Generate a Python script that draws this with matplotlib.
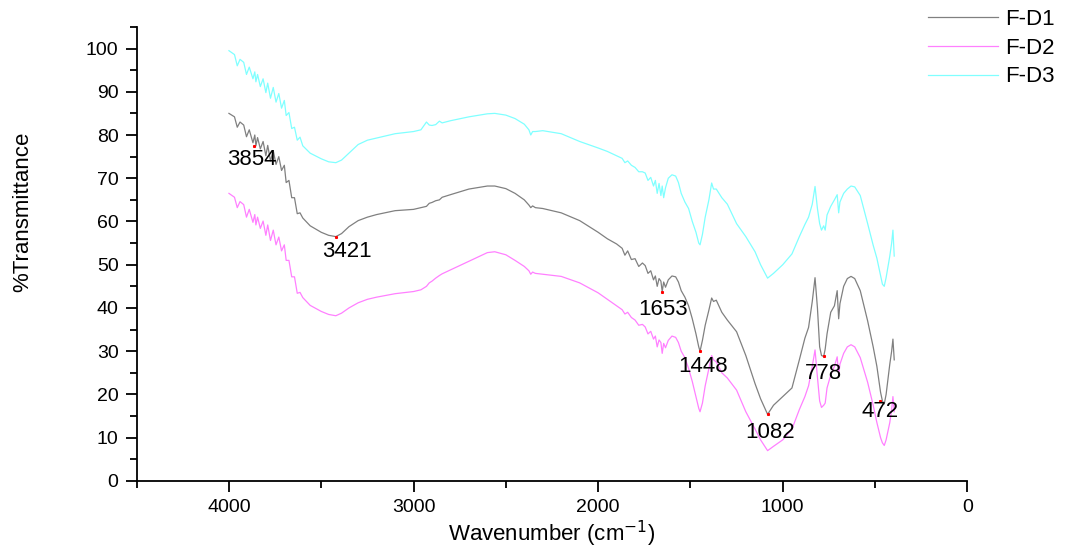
#!/usr/bin/env python3
# -*- coding: utf-8 -*-

"""
FTIR spectra of F-D1, F-D2 and F-D3 (% transmittance vs wavenumber).
"""

import matplotlib
matplotlib.use("Agg")
import matplotlib.pyplot as plt
from matplotlib.ticker import MultipleLocator

# Wavenumber grid (cm-1), shared by the three spectra
wavenumber = [
    4000, 3970, 3955, 3940, 3920, 3905, 3890, 3870, 3860, 3854,
    3845, 3830, 3815, 3800, 3790, 3775, 3760, 3745, 3730, 3715,
    3700, 3690, 3675, 3660, 3645, 3630, 3615, 3600, 3560, 3500,
    3460, 3421, 3390, 3350, 3300, 3250, 3200, 3100, 3000, 2960,
    2930, 2915, 2900, 2880, 2860, 2845, 2800, 2700, 2600, 2560,
    2500, 2450, 2400, 2375, 2365, 2355, 2340, 2300, 2200, 2100,
    2000, 1950, 1900, 1870, 1855, 1840, 1820, 1800, 1780, 1760,
    1745, 1730, 1715, 1700, 1690, 1680, 1670, 1660, 1653, 1645,
    1635, 1620, 1600, 1580, 1565, 1550, 1530, 1510, 1490, 1470,
    1455, 1448, 1435, 1420, 1400, 1385, 1375, 1360, 1330, 1300,
    1250, 1200, 1150, 1120, 1082, 1050, 1000, 950, 910, 880,
    860, 840, 825, 812, 800, 790, 778, 770, 760, 740,
    720, 705, 697, 690, 670, 650, 630, 610, 580, 540,
    510, 490, 470, 460, 450, 440, 420, 410, 403, 396,
]

fd1 = [
    85.0, 84.2, 81.8, 83.0, 82.3, 79.6, 81.2, 78.2, 80.0, 77.5,
    79.4, 76.8, 78.5, 75.2, 77.6, 74.0, 76.4, 73.2, 75.0, 71.8,
    73.0, 69.0, 69.5, 65.5, 65.5, 61.8, 62.0, 60.8, 59.0, 57.5,
    56.8, 56.5, 57.2, 58.8, 60.2, 61.0, 61.6, 62.5, 62.8, 63.2,
    63.5, 64.2, 64.4, 64.8, 65.0, 65.6, 66.2, 67.5, 68.2, 68.2,
    67.6, 66.5, 65.0, 63.8, 63.2, 63.6, 63.2, 63.0, 62.0, 60.2,
    57.5, 56.0, 54.8, 53.8, 52.2, 53.2, 51.2, 51.4, 49.6, 50.4,
    49.8, 48.0, 48.6, 46.5, 47.4, 45.0, 46.8, 46.2, 43.8, 46.0,
    44.8, 46.5, 47.4, 47.2, 46.0, 44.0, 42.5, 40.5, 37.5, 34.0,
    31.0, 30.0, 32.5, 36.0, 39.5, 42.3, 41.5, 41.8, 39.0, 37.2,
    34.5, 29.0, 22.5, 19.0, 15.4, 17.5, 19.5, 21.5, 28.0, 33.0,
    35.5, 41.5, 47.0, 40.0, 31.0, 29.0, 28.8, 30.5, 34.0, 39.0,
    40.5, 44.0, 37.5, 41.0, 45.0, 46.8, 47.3, 46.8, 44.0, 37.0,
    31.0, 26.5, 20.5, 18.5, 17.8, 20.0, 27.0, 30.0, 32.8, 28.0,
]

fd2 = [
    66.5, 65.6, 63.2, 64.6, 63.9, 61.0, 62.8, 59.8, 61.6, 59.2,
    61.0, 58.4, 60.1, 56.8, 59.2, 55.6, 58.0, 54.6, 56.4, 53.2,
    54.6, 51.0, 51.0, 47.2, 47.2, 43.4, 43.6, 42.4, 40.6, 39.2,
    38.5, 38.2, 38.8, 40.0, 41.2, 42.0, 42.5, 43.3, 43.8, 44.2,
    45.0, 45.8, 46.2, 46.9, 47.5, 47.9, 48.8, 50.8, 52.8, 53.0,
    52.3, 51.0, 49.6, 48.6, 47.8, 48.3, 48.0, 47.8, 47.3, 45.8,
    43.5, 42.0, 40.5, 39.6, 38.6, 39.0, 37.8, 37.2, 36.0, 36.2,
    35.6, 34.0, 34.6, 32.8, 33.5, 31.0, 32.6, 32.0, 29.5, 31.8,
    30.8, 32.5, 33.5, 33.2, 32.0, 30.0, 28.5, 26.0, 23.0, 19.5,
    16.8, 16.0, 18.0, 22.0, 26.0, 29.0, 28.0, 27.5, 25.0, 23.8,
    21.0, 16.0, 12.0, 9.5, 7.0, 8.0, 9.5, 12.0, 16.5, 19.5,
    22.0, 26.5, 30.3, 24.0, 18.5, 17.0, 17.5, 18.0, 21.5, 24.5,
    26.5, 28.7, 24.5, 27.0, 29.5, 31.0, 31.5, 31.0, 28.5, 22.8,
    17.5, 13.5, 10.0, 8.8, 8.2, 9.5, 13.5, 16.5, 19.5, 16.0,
]

fd3 = [
    99.5, 98.6, 96.0, 97.5, 96.8, 94.0, 95.7, 93.0, 94.6, 92.3,
    94.0, 91.2, 93.0, 89.8, 92.0, 88.5, 91.0, 87.6, 89.6, 86.2,
    88.0, 84.5, 85.2, 81.5, 81.8, 78.8, 79.5, 77.5, 75.8, 74.5,
    73.8, 73.6, 74.2, 75.8, 77.8, 78.8, 79.3, 80.3, 80.8, 81.2,
    83.0, 82.3, 82.2, 82.4, 83.2, 82.8, 83.3, 84.2, 84.9, 85.0,
    84.6, 83.8, 82.5, 81.2, 80.0, 80.8, 80.8, 81.0, 80.3, 78.5,
    77.0, 76.2, 75.2, 74.6, 73.6, 74.0, 73.0, 72.5, 71.5, 71.5,
    71.2, 69.5, 70.2, 68.2, 69.5, 66.5, 68.8, 66.0, 68.2, 65.5,
    67.8, 70.0, 70.8, 70.5, 69.0, 66.5, 64.5, 63.0, 60.0, 57.5,
    55.0, 54.6, 57.0, 61.0, 65.0, 68.9, 67.5, 67.5, 65.5, 64.0,
    59.5, 56.5, 53.0, 50.0, 46.9, 48.0, 50.0, 52.5, 56.5, 59.3,
    61.0, 64.0, 68.1, 63.0, 59.5, 58.0, 59.0, 58.0, 61.5, 63.5,
    65.0, 66.2, 62.0, 64.5, 66.5, 67.5, 68.2, 68.0, 66.0, 59.5,
    54.5, 51.5, 47.5, 45.5, 45.0, 47.0, 52.0, 55.0, 58.0, 52.0,
]

# Peak labels (marked on F-D1)
peak_labels = ["3854", "3421", "1653", "1448", "1082", "778", "472"]
peak_pos = [3864, 3421, 1653, 1448, 1082, 778, 472]
peak_val = [77.5, 56.5, 43.8, 30.0, 15.4, 28.8, 18.5]
label_x = [3875, 3360, 1650, 1433, 1069, 782, 472]
label_y = [74.3, 53.0, 39.6, 26.4, 11.3, 24.8, 16.0]


def main():
    plt.rcParams["font.family"] = ["Liberation Sans", "DejaVu Sans"]

    fig = plt.figure(figsize=(10.76, 5.49), dpi=100)
    ax = fig.add_axes([0.127, 0.124, 0.772, 0.827])

    lw = 0.9
    ax.plot(wavenumber, fd1, color="#808080", lw=lw, label="F-D1")
    ax.plot(wavenumber, fd2, color="#FF80FF", lw=lw, label="F-D2")
    ax.plot(wavenumber, fd3, color="#80FFFF", lw=lw, label="F-D3")

    ax.plot(peak_pos, peak_val, ls="none", marker="s", ms=1.2, color="red")
    for txt, x, y in zip(peak_labels, label_x, label_y):
        ax.text(x, y, txt, ha="center", va="center", fontsize=16)

    ax.set_xlim(4500, 0)
    ax.set_ylim(0, 105)
    ax.xaxis.set_major_locator(MultipleLocator(1000))
    ax.xaxis.set_minor_locator(MultipleLocator(500))
    ax.yaxis.set_major_locator(MultipleLocator(10))
    ax.yaxis.set_minor_locator(MultipleLocator(5))
    ax.set_yticks(range(0, 101, 10))

    for side in ["top", "right"]:
        ax.spines[side].set_visible(False)
    for side in ["left", "bottom"]:
        ax.spines[side].set_linewidth(1.3)

    ax.tick_params(which="major", length=8, width=1.3, labelsize=14, pad=5)
    ax.tick_params(which="minor", length=5, width=1.3)

    ax.set_xlabel("Wavenumber (cm$^{-1}$)", fontsize=16, labelpad=2)
    ax.set_ylabel("%Transmittance", fontsize=16)
    ax.yaxis.set_label_coords(-0.125, 0.593)

    fig.legend(loc="upper left", bbox_to_anchor=(0.854, 1.0), frameon=False,
               fontsize=16, handlelength=3.15, handletextpad=0.35,
               labelspacing=0.35, borderaxespad=0.0)

    plt.savefig("out.png", dpi=100)
    plt.close()


if __name__ == "__main__":
    main()
